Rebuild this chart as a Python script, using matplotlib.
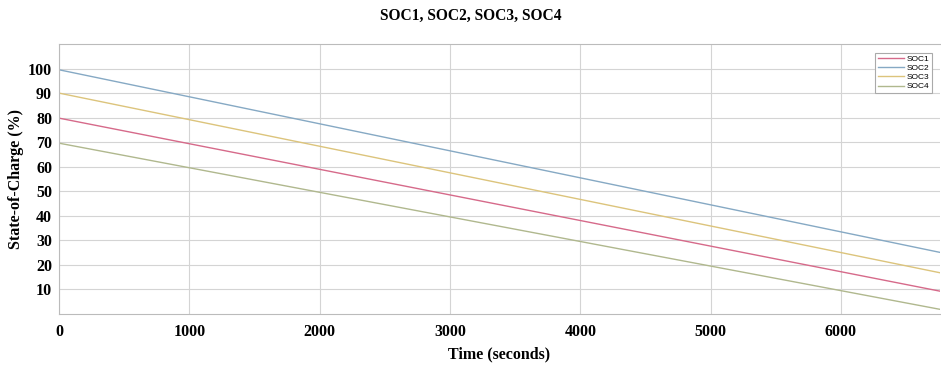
import matplotlib
matplotlib.use("Agg")
import matplotlib.pyplot as plt

time_s = [0, 6760]
soc1 = [79.8, 9.3]
soc2 = [99.5, 25.1]
soc3 = [90.0, 16.8]
soc4 = [69.6, 1.9]
series_names = ["SOC1", "SOC2", "SOC3", "SOC4"]
colors = ["#d66a8a", "#86a9c4", "#dcc47c", "#b0b88e"]
xticks = [0, 1000, 2000, 3000, 4000, 5000, 6000]
yticks = [10, 20, 30, 40, 50, 60, 70, 80, 90, 100]

fig = plt.figure(figsize=(9.41, 3.69), dpi=100)
ax = fig.add_axes([59/941, 1-314/369, 881/941, 270/369])

for vals, name, c in zip([soc1, soc2, soc3, soc4], series_names, colors):
    ax.plot(time_s, vals, color=c, lw=1.0, label=name)

ax.set_xlim(0, 6760)
ax.set_ylim(0, 110)
ax.set_xticks(xticks)
ax.set_yticks(yticks)
ax.grid(True, color="#d4d4d4", lw=0.8)
ax.set_axisbelow(True)
for s in ax.spines.values():
    s.set_color("#bbbbbb")
ax.spines["right"].set_visible(False)
ax.tick_params(axis="x", length=0, pad=7)
ax.tick_params(axis="y", length=0, pad=5)
serif = "Liberation Serif"
for lab in ax.get_xticklabels() + ax.get_yticklabels():
    lab.set_fontfamily(serif)
    lab.set_fontweight("bold")
    lab.set_fontsize(11.5)
ax.set_xlabel("Time (seconds)", fontfamily=serif, fontweight="bold", fontsize=11.5, labelpad=5)
ax.set_ylabel("State-of-Charge (%)", fontfamily=serif, fontweight="bold", fontsize=11.5, labelpad=3)
fig.text(0.5, 1-16/369, "SOC1, SOC2, SOC3, SOC4", ha="center", va="center",
         fontfamily=serif, fontweight="bold", fontsize=11.2)

leg = ax.legend(loc="upper right", bbox_to_anchor=(0.991, 0.967),
                prop={"family": "Liberation Sans", "size": 6},
                frameon=True, fancybox=False, framealpha=1, edgecolor="#aaaaaa",
                handlelength=3.2, handletextpad=0.3, labelspacing=0.15,
                borderpad=0.3, borderaxespad=0)
leg.get_frame().set_linewidth(0.8)

fig.savefig("out.png", dpi=100)
